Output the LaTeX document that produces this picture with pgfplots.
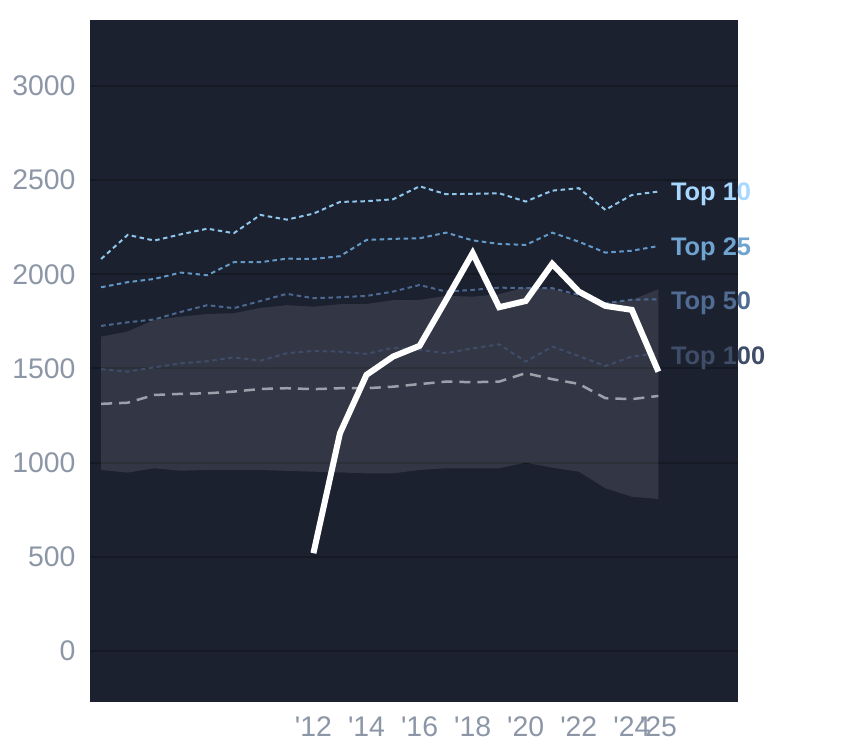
\documentclass[border=0pt]{standalone}
\usepackage{pgfplots}
\pgfplotsset{compat=1.18}
\usepackage{fontspec}
\setmainfont{Liberation Sans}
\setsansfont{Liberation Sans}
\definecolor{bg}{HTML}{1C2130}
\definecolor{gridc}{HTML}{141923}
\definecolor{tickc}{HTML}{8C96A6}
\definecolor{tten}{HTML}{8EC6EC}
\definecolor{ttwf}{HTML}{6299C8}
\definecolor{tfif}{HTML}{4C6891}
\definecolor{thun}{HTML}{3E4C68}
\definecolor{medc}{HTML}{9BA1AB}
\definecolor{lten}{HTML}{A8D8FF}
\definecolor{ltwf}{HTML}{6FA3D0}
\definecolor{lfif}{HTML}{506C92}
\definecolor{lhun}{HTML}{3F4D68}
\begin{document}
\begin{tikzpicture}
\path[use as bounding box] (0,0) rectangle (844bp,748bp);
\begin{axis}[
  at={(90bp,46bp)}, anchor=south west,
  scale only axis, width=648bp, height=682bp,
  xmin=2003.58, xmax=2028.0,
  ymin=-271, ymax=3350,
  axis background/.style={fill=bg},
  axis line style={draw=none},
  major tick length=0pt,
  ytick={0,500,1000,1500,2000,2500,3000},
  xtick={2012,2014,2016,2018,2020,2022,2024,2025},
  xticklabels={\textquotesingle12,\textquotesingle14,\textquotesingle16,\textquotesingle18,\textquotesingle20,\textquotesingle22,\textquotesingle24,\textquotesingle25},
  ymajorgrids,
  grid style={draw=gridc, line width=2bp},
  tick label style={font=\fontsize{28.5}{31}\selectfont, text=tickc},
  yticklabel style={xshift=-11bp},
  xticklabel style={yshift=-11bp},
  /pgf/number format/assume math mode=true,
  /pgf/number format/set thousands separator={},
  clip=false,
]
% band (lower/upper)
\addplot[draw=none, fill=white, fill opacity=0.1] coordinates {
(2004,1669)(2005,1696)(2006,1757)(2007,1775)(2008,1789)(2009,1793)(2010,1821)(2011,1836)(2012,1828)(2013,1841)(2014,1842)(2015,1862)(2016,1864)(2017,1885)(2018,1881)(2019,1894)(2020,1931)(2021,1922)(2022,1878)(2023,1846)(2024,1864)(2025,1921)
(2025,807)(2024,819)(2023,864)(2022,952)(2021,973)(2020,1000)(2019,970)(2018,970)(2017,970)(2016,961)(2015,943)(2014,943)(2013,948)(2012,952)(2011,956)(2010,961)(2009,961)(2008,961)(2007,957)(2006,970)(2005,947)(2004,961)
} -- cycle;
% Top 10
\addplot[tten, line width=2bp, dash pattern=on 4.5bp off 3.5bp] coordinates {
(2004,2081)(2005,2209)(2006,2179)(2007,2212)(2008,2242)(2009,2218)(2010,2315)(2011,2290)(2012,2322)(2013,2384)(2014,2388)(2015,2398)(2016,2467)(2017,2425)(2018,2427)(2019,2430)(2020,2386)(2021,2444)(2022,2457)(2023,2342)(2024,2421)(2025,2439)
};
% Top 25
\addplot[ttwf, line width=2bp, dash pattern=on 4.5bp off 3.5bp] coordinates {
(2004,1931)(2005,1958)(2006,1975)(2007,2009)(2008,1995)(2009,2064)(2010,2064)(2011,2083)(2012,2081)(2013,2096)(2014,2182)(2015,2188)(2016,2191)(2017,2221)(2018,2180)(2019,2161)(2020,2156)(2021,2221)(2022,2173)(2023,2115)(2024,2125)(2025,2150)
};
% Top 50
\addplot[tfif, line width=2bp, dash pattern=on 4.5bp off 3.5bp] coordinates {
(2004,1726)(2005,1745)(2006,1760)(2007,1800)(2008,1836)(2009,1820)(2010,1858)(2011,1896)(2012,1873)(2013,1878)(2014,1885)(2015,1908)(2016,1943)(2017,1908)(2018,1917)(2019,1929)(2020,1926)(2021,1926)(2022,1890)(2023,1846)(2024,1865)(2025,1867)
};
% Top 100
\addplot[thun, line width=2bp, dash pattern=on 4.5bp off 3.5bp] coordinates {
(2004,1496)(2005,1483)(2006,1506)(2007,1527)(2008,1538)(2009,1559)(2010,1541)(2011,1581)(2012,1593)(2013,1589)(2014,1577)(2015,1610)(2016,1598)(2017,1581)(2018,1607)(2019,1628)(2020,1536)(2021,1616)(2022,1566)(2023,1513)(2024,1563)(2025,1581)
};
% grey dashed
\addplot[medc, line width=2.5bp, dash pattern=on 11bp off 7bp] coordinates {
(2004,1312)(2005,1318)(2006,1359)(2007,1365)(2008,1368)(2009,1377)(2010,1391)(2011,1395)(2012,1390)(2013,1395)(2014,1395)(2015,1403)(2016,1417)(2017,1430)(2018,1427)(2019,1430)(2020,1475)(2021,1443)(2022,1418)(2023,1342)(2024,1337)(2025,1354)
};
% white line
\addplot[white, line width=6bp] coordinates {
(2012,519)(2013,1156)(2014,1466)(2015,1563)(2016,1620)(2017,1864)(2018,2112)(2019,1825)(2020,1858)(2021,2055)(2022,1908)(2023,1832)(2024,1811)(2025,1483)
};
\node[anchor=west, inner sep=0pt, text=lten, font=\fontsize{25.5}{28}\selectfont\bfseries] at (axis cs:2025.47,2427) {Top 10};
\node[anchor=west, inner sep=0pt, text=ltwf, font=\fontsize{25.5}{28}\selectfont\bfseries] at (axis cs:2025.47,2134) {Top 25};
\node[anchor=west, inner sep=0pt, text=lfif, font=\fontsize{25.5}{28}\selectfont\bfseries] at (axis cs:2025.47,1848) {Top 50};
\node[anchor=west, inner sep=0pt, text=lhun, font=\fontsize{25.5}{28}\selectfont\bfseries] at (axis cs:2025.47,1556) {Top 100};
\end{axis}
\end{tikzpicture}
\end{document}
